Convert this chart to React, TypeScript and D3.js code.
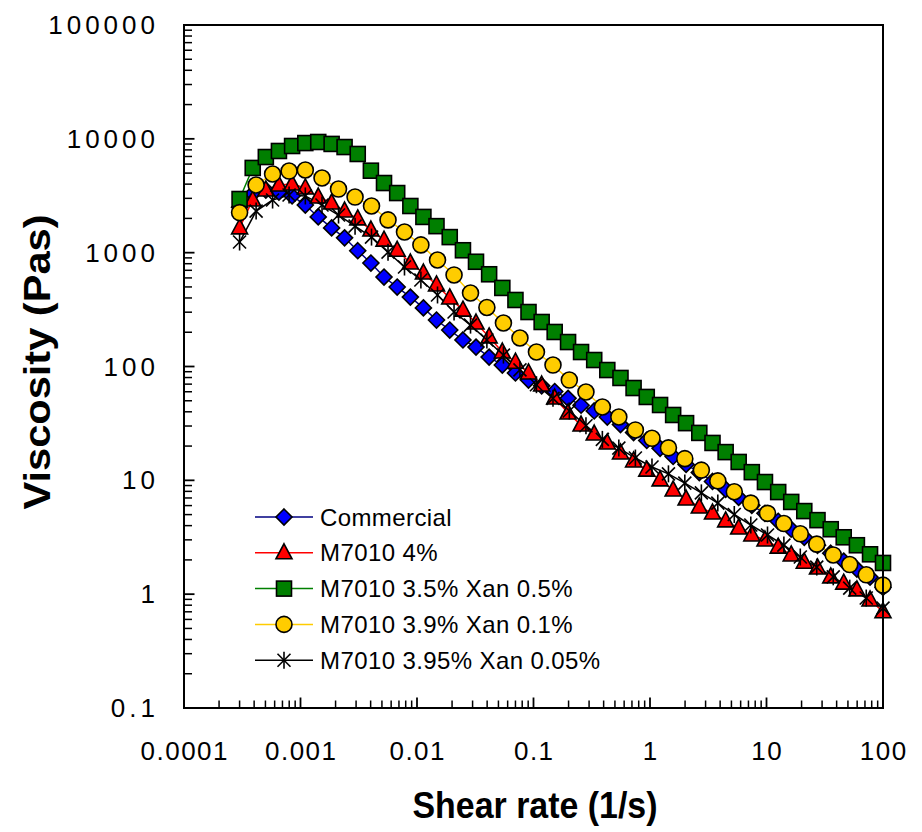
import React from "react";
import * as d3 from "d3";

// Shear rates (1/s) for the 50-point series and the 40-point series
const SHEAR_50 = [0.0003, 0.000389, 0.000504, 0.000653, 0.000847, 0.0011, 0.00142, 0.00185, 0.00239, 0.0031,
  0.00402, 0.00521, 0.00676, 0.00877, 0.01135, 0.0147, 0.0191, 0.0248, 0.0321, 0.0416,
  0.054, 0.07, 0.0906, 0.1175, 0.152, 0.198, 0.256, 0.332, 0.43, 0.558,
  0.723, 0.938, 1.22, 1.58, 2.04, 2.65, 3.44, 4.46, 5.77, 7.48,
  9.7, 12.6, 16.3, 21.1, 27.4, 35.6, 46, 59.7, 77.4, 100];
const SHEAR_40 = [0.0003, 0.000416, 0.000576, 0.000798, 0.0011, 0.00153, 0.00212, 0.00294, 0.00407, 0.00564,
  0.00781, 0.0108, 0.015, 0.0208, 0.0288, 0.0398, 0.0552, 0.0765, 0.106, 0.147,
  0.203, 0.282, 0.39, 0.54, 0.749, 1.04, 1.44, 1.99, 2.76, 3.82,
  5.29, 7.33, 10.2, 14.1, 19.5, 27, 37.4, 51.8, 71.8, 100];

// Viscosity (Pas)
const COMMERCIAL = [2500, 3300, 3550, 3400, 3150, 2620, 2060, 1650, 1350, 1040,
  811, 611, 499, 407, 327, 256, 209, 171, 148, 121,
  103, 87.7, 76.0, 67.6, 60.3, 52.5, 45.7, 40.7, 36.0, 30.9,
  26.3, 22.4, 19.1, 16.2, 13.8, 11.7, 9.77, 8.32, 7.08, 6.03,
  5.13, 4.37, 3.72, 3.16, 2.69, 2.29, 1.95, 1.66, 1.41, 1.15];
const M7010_4 = [1650, 2900, 3550, 3930, 4010, 3700, 3080, 2730, 2320, 1980,
  1580, 1290, 1050, 811, 662, 520, 400, 313, 241, 182,
  134, 109, 87.7, 68.7, 52.8, 39.0, 30.6, 25.5, 21.3, 17.4,
  14.8, 12.3, 10.1, 8.22, 6.85, 5.83, 5.16, 4.40, 3.81, 3.31,
  2.99, 2.59, 2.21, 1.91, 1.70, 1.42, 1.25, 1.09, 0.89, 0.70];
const XAN_05 = [2960, 5550, 6920, 7820, 8650, 9180, 9380, 9020, 8470, 7360,
  5250, 4090, 3340, 2570, 2060, 1710, 1370, 1050, 832, 646,
  490, 384, 301, 246, 201, 164, 134, 114, 93.1, 79.3,
  64.7, 54.0, 45.9, 37.5, 31.8, 26.1, 21.3, 17.7, 14.5, 11.8,
  9.66, 7.89, 6.46, 5.37, 4.47, 3.72, 3.16, 2.69, 2.24, 1.88];
const XAN_01 = [2250, 3930, 4910, 5210, 5320, 4530, 3620, 3080, 2570, 1940,
  1520, 1170, 862, 637, 442, 330, 241, 178, 134, 103,
  76.0, 59.7, 44.1, 36.0, 27.7, 23.4, 19.3, 15.5, 12.3, 9.89,
  7.94, 6.31, 5.13, 4.17, 3.39, 2.75, 2.21, 1.82, 1.48, 1.20];
const XAN_005 = [1240, 2320, 2900, 3210, 3150, 2620, 2140, 1710, 1370, 1010,
  748, 575, 425, 301, 231, 171, 126, 93.3, 69.2, 52.5,
  40.7, 30.2, 22.9, 19.2, 15.7, 13.1, 11.4, 9.46, 7.76, 6.31,
  5.01, 4.05, 3.31, 2.70, 2.12, 1.73, 1.42, 1.13, 0.925, 0.755];

const SERIES_NAMES = ["Commercial", "M7010 4%", "M7010 3.5% Xan 0.5%", "M7010 3.9% Xan 0.1%", "M7010 3.95% Xan 0.05%"];
const X_TICK_LABELS = ["0.0001", "0.001", "0.01", "0.1", "1", "10", "100"];
const Y_TICK_LABELS = ["0.1", "1", "10", "100", "1000", "10000", "100000"];

type Shape = "diamond" | "triangle" | "square" | "circle" | "asterisk";
const SERIES: { name: string; xs: number[]; ys: number[]; line: string; fill: string; shape: Shape }[] = [
  { name: SERIES_NAMES[0], xs: SHEAR_50, ys: COMMERCIAL, line: "#000080", fill: "#0000FF", shape: "diamond" },
  { name: SERIES_NAMES[1], xs: SHEAR_50, ys: M7010_4, line: "#FF0000", fill: "#FF0000", shape: "triangle" },
  { name: SERIES_NAMES[2], xs: SHEAR_50, ys: XAN_05, line: "#008000", fill: "#007F00", shape: "square" },
  { name: SERIES_NAMES[3], xs: SHEAR_40, ys: XAN_01, line: "#FFCC00", fill: "#FFCC00", shape: "circle" },
  { name: SERIES_NAMES[4], xs: SHEAR_40, ys: XAN_005, line: "#000000", fill: "#000000", shape: "asterisk" },
];

const L = 184, R = 883, T = 25, B = 708;
const FONT = "'Liberation Sans', Arial, sans-serif";

function Marker({ shape, fill, x, y }: { shape: Shape; fill: string; x: number; y: number }) {
  const sw = 1.6;
  if (shape === "diamond") {
    const r = 8;
    return <polygon points={`${x},${y - r} ${x + r},${y} ${x},${y + r} ${x - r},${y}`} fill={fill} stroke="#000" strokeWidth={sw} />;
  }
  if (shape === "triangle") {
    return <polygon points={`${x},${y - 9} ${x + 8},${y + 6} ${x - 8},${y + 6}`} fill={fill} stroke="#000" strokeWidth={sw} strokeLinejoin="miter" />;
  }
  if (shape === "square") {
    return <rect x={x - 7.5} y={y - 7.5} width={15} height={15} fill={fill} stroke="#000" strokeWidth={sw} />;
  }
  if (shape === "circle") {
    return <circle cx={x} cy={y} r={8} fill={fill} stroke="#000" strokeWidth={sw} />;
  }
  const r = 8.5, d = 6.5;
  return (
    <g stroke="#000" strokeWidth={1.6}>
      <line x1={x} y1={y - r} x2={x} y2={y + r} />
      <line x1={x - d} y1={y - d} x2={x + d} y2={y + d} />
      <line x1={x - d} y1={y + d} x2={x + d} y2={y - d} />
    </g>
  );
}

export default function App() {
  const x = d3.scaleLog().domain([1e-4, 100]).range([L, R]);
  const y = d3.scaleLog().domain([0.1, 1e5]).range([B, T]);

  const xMajor = X_TICK_LABELS.map(Number);
  const yMajor = Y_TICK_LABELS.map(Number);
  const xMinor: number[] = [];
  for (let e = -4; e < 2; e++) for (let m = 2; m <= 9; m++) xMinor.push(m * Math.pow(10, e));
  const yMinor: number[] = [];
  for (let e = -1; e < 5; e++) for (let m = 2; m <= 9; m++) yMinor.push(m * Math.pow(10, e));

  const legendY0 = 517, legendDy = 35.8;

  return (
    <svg width={922} height={832} style={{ position: "absolute", left: 0, top: 0, background: "#fff" }} fontFamily={FONT}>
      <rect x={0} y={0} width={922} height={832} fill="#fff" />
      {/* series lines */}
      {SERIES.map((s) => {
        const pts = s.xs.map((v, i) => [x(v), y(s.ys[i])] as [number, number]);
        const path = d3.line()(pts) || "";
        return <path key={"l" + s.name} d={path} fill="none" stroke={s.line} strokeWidth={1.5} />;
      })}
      {/* markers */}
      {SERIES.map((s) => (
        <g key={"m" + s.name}>
          {s.xs.map((v, i) => (
            <Marker key={i} shape={s.shape} fill={s.fill} x={x(v)} y={y(s.ys[i])} />
          ))}
        </g>
      ))}
      {/* frame */}
      <rect x={L} y={T} width={R - L} height={B - T} fill="none" stroke="#000" strokeWidth={2} />
      {/* x ticks */}
      {xMinor.map((v, i) => (
        <line key={"xm" + i} x1={x(v)} x2={x(v)} y1={B} y2={B - 7.5} stroke="#000" strokeWidth={1.5} />
      ))}
      {xMajor.map((v, i) => (
        <line key={"xM" + i} x1={x(v)} x2={x(v)} y1={B} y2={B - 10.5} stroke="#000" strokeWidth={1.8} />
      ))}
      {/* y ticks */}
      {yMinor.map((v, i) => (
        <line key={"ym" + i} x1={L} x2={L + 8} y1={y(v)} y2={y(v)} stroke="#000" strokeWidth={1.5} />
      ))}
      {yMajor.map((v, i) => (
        <line key={"yM" + i} x1={L} x2={L + 10.5} y1={y(v)} y2={y(v)} stroke="#000" strokeWidth={1.8} />
      ))}
      {/* tick labels */}
      {X_TICK_LABELS.map((t, i) => (
        <text key={"xt" + i} x={x(xMajor[i]) + 0.75} y={760} textAnchor="middle" fontSize={26} letterSpacing={1.5} fill="#000">{t}</text>
      ))}
      {Y_TICK_LABELS.map((t, i) => (
        <text key={"yt" + i} x={159} y={y(yMajor[i]) + 9} textAnchor="end" fontSize={26} letterSpacing={4} fill="#000">{t}</text>
      ))}
      {/* axis titles */}
      <text x={535} y={818} textAnchor="middle" fontSize={37} fontWeight="bold" textLength={245} lengthAdjust="spacingAndGlyphs" fill="#000">Shear rate (1/s)</text>
      <text transform="translate(50,362) rotate(-90)" textAnchor="middle" fontSize={37} fontWeight="bold" textLength={295} lengthAdjust="spacingAndGlyphs" fill="#000">Viscosity (Pas)</text>
      {/* legend */}
      {SERIES.map((s, i) => {
        const ly = legendY0 + i * legendDy;
        return (
          <g key={"lg" + i}>
            <line x1={255} x2={313} y1={ly} y2={ly} stroke={s.line} strokeWidth={1.5} />
            <Marker shape={s.shape} fill={s.fill} x={284} y={ly} />
            <text x={320} y={ly + 8.5} fontSize={24} letterSpacing={0.4} fill="#000">{s.name}</text>
          </g>
        );
      })}
    </svg>
  );
}
